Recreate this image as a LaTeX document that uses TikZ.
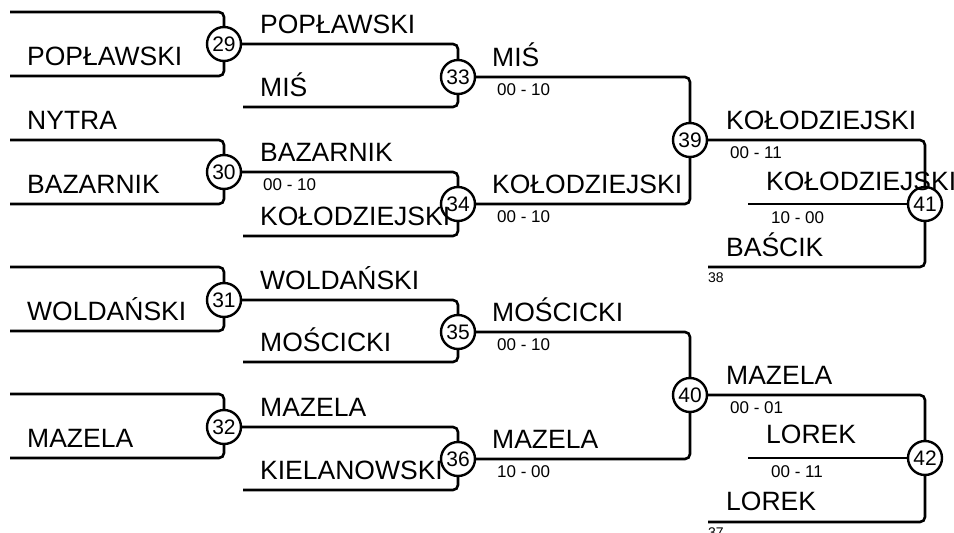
\documentclass[tikz,border=0pt]{standalone}
\usepackage{fontspec}
\setmainfont{Liberation Sans}
\begin{document}
\begin{tikzpicture}[x=1pt,y=-1pt,
  wire/.style={line width=2.6pt, rounded corners=5pt},
  match/.style={circle, draw, line width=2.4pt, minimum size=34pt, inner sep=0pt, font=\fontsize{21}{21}\selectfont},
  pname/.style={anchor=base west, inner sep=0pt, font=\fontsize{26.5}{26.5}\selectfont},
  pscore/.style={anchor=base west, inner sep=0pt, font=\fontsize{17}{17}\selectfont},
  psmall/.style={anchor=base west, inner sep=0pt, font=\fontsize{14}{14}\selectfont}]
\useasboundingbox (0,0) rectangle (954,533);

% circles
\node[match] (c29) at (224,44) {29};
\node[match] (c30) at (224,172) {30};
\node[match] (c31) at (224,300) {31};
\node[match] (c32) at (224,427) {32};
\node[match] (c33) at (458,77) {33};
\node[match] (c34) at (458,204) {34};
\node[match] (c35) at (458,332) {35};
\node[match] (c36) at (458,459) {36};
\node[match] (c39) at (690,140) {39};
\node[match] (c40) at (690,395) {40};
\node[match] (c41) at (925,204) {41};
\node[match] (c42) at (925,458) {42};

% free ends
\coordinate (a29) at (10,12);
\coordinate (b29) at (10,76);
\coordinate (a30) at (10,140);
\coordinate (b30) at (10,204);
\coordinate (a31) at (10,267);
\coordinate (b31) at (10,331);
\coordinate (a32) at (10,394);
\coordinate (b32) at (10,458);
\coordinate (b33) at (243,107);
\coordinate (b34) at (243,236);
\coordinate (b35) at (243,362);
\coordinate (b36) at (243,490);
\coordinate (m41) at (748,204);
\coordinate (b41) at (708,267);
\coordinate (m42) at (748,458);
\coordinate (b42) at (708,522);

% connectors
\draw[wire] (a29) -| (c29);
\draw[wire] (b29) -| (c29);
\draw[wire] (a30) -| (c30);
\draw[wire] (b30) -| (c30);
\draw[wire] (a31) -| (c31);
\draw[wire] (b31) -| (c31);
\draw[wire] (a32) -| (c32);
\draw[wire] (b32) -| (c32);
\draw[wire] (c29) -| (c33);
\draw[wire] (b33) -| (c33);
\draw[wire] (c30) -| (c34);
\draw[wire] (b34) -| (c34);
\draw[wire] (c31) -| (c35);
\draw[wire] (b35) -| (c35);
\draw[wire] (c32) -| (c36);
\draw[wire] (b36) -| (c36);
\draw[wire] (c33) -| (c39);
\draw[wire] (c34) -| (c39);
\draw[wire] (c35) -| (c40);
\draw[wire] (c36) -| (c40);
\draw[wire] (c39) -| (c41);
\draw[wire] (m41) -- (c41);
\draw[wire] (b41) -| (c41);
\draw[wire] (c40) -| (c42);
\draw[wire] (m42) -- (c42);
\draw[wire] (b42) -| (c42);

% names column 1
\node[pname] (n1) at (27,65) {POPŁAWSKI};
\node[pname] (n2) at (27,129) {NYTRA};
\node[pname] (n3) at (27,193) {BAZARNIK};
\node[pname] (n4) at (27,320) {WOLDAŃSKI};
\node[pname] (n5) at (27,447) {MAZELA};
% column 2
\node[pname] (n6) at (260,33) {POPŁAWSKI};
\node[pname] (n7) at (260,96) {MIŚ};
\node[pname] (n8) at (260,161) {BAZARNIK};
\node[pscore] (s8) at (263,190) {00 - 10};
\node[pname] (n9) at (260,225) {KOŁODZIEJSKI};
\node[pname] (n10) at (260,289) {WOLDAŃSKI};
\node[pname] (n11) at (260,351) {MOŚCICKI};
\node[pname] (n12) at (260,416) {MAZELA};
\node[pname] (n13) at (260,479) {KIELANOWSKI};
% column 3
\node[pname] (n14) at (492,66) {MIŚ};
\node[pscore] (s14) at (497,95) {00 - 10};
\node[pname] (n15) at (492,193) {KOŁODZIEJSKI};
\node[pscore] (s15) at (497,222) {00 - 10};
\node[pname] (n16) at (492,321) {MOŚCICKI};
\node[pscore] (s16) at (497,350) {00 - 10};
\node[pname] (n17) at (492,448) {MAZELA};
\node[pscore] (s17) at (497,477) {10 - 00};
% column 4
\node[pname] (n18) at (726,129) {KOŁODZIEJSKI};
\node[pscore] (s18) at (730,158) {00 - 11};
\node[pname] (n19) at (766,190) {KOŁODZIEJSKI};
\node[pscore] (s19) at (771,223) {10 - 00};
\node[pname] (n20) at (726,256) {BAŚCIK};
\node[psmall] (r38) at (708,282) {38};
\node[pname] (n21) at (726,384) {MAZELA};
\node[pscore] (s21) at (730,413) {00 - 01};
\node[pname] (n22) at (766,443) {LOREK};
\node[pscore] (s22) at (771,477) {00 - 11};
\node[pname] (n23) at (726,510) {LOREK};
\node[psmall] (r37) at (708,537) {37};
\end{tikzpicture}
\end{document}
